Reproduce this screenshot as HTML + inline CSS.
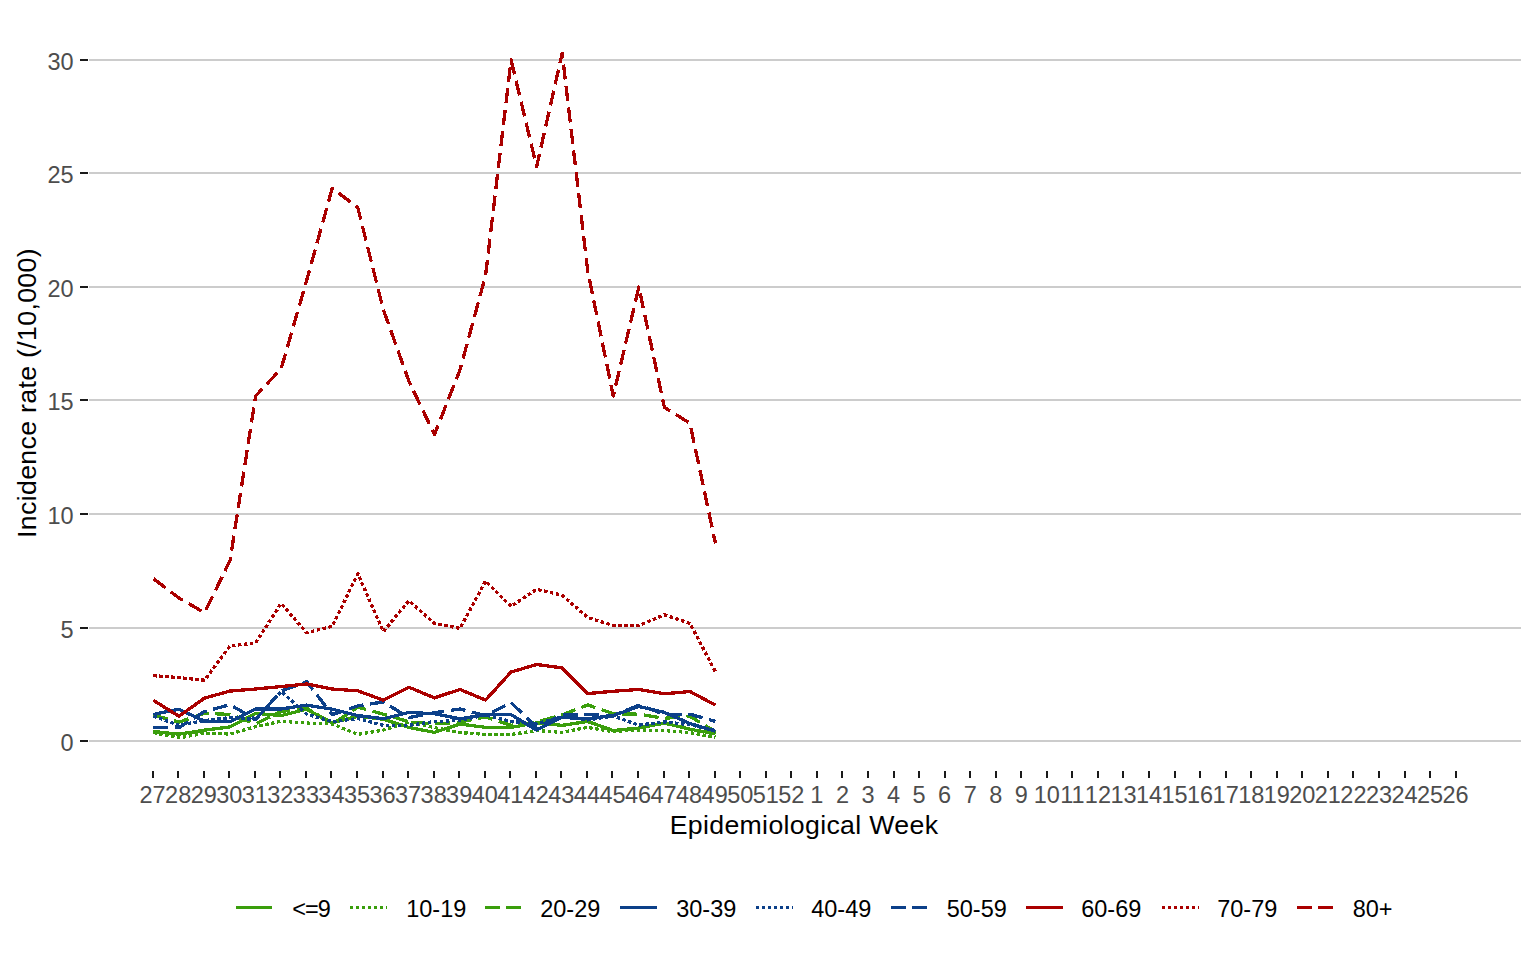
<!DOCTYPE html>
<html lang="en">
<head>
<meta charset="utf-8">
<title>Incidence rate by Epidemiological Week</title>
<style>
html,body{margin:0;padding:0;background:#ffffff;}
body{width:1536px;height:960px;overflow:hidden;}
svg{display:block;}
text{font-family:"Liberation Sans",Arial,Helvetica,sans-serif;}
.tick{fill:#4d4d4d;font-size:23.5px;}
.ttl{fill:#000000;font-size:26.7px;letter-spacing:0.33px;}
.leg{fill:#000000;font-size:23.5px;}
</style>
</head>
<body>
<svg width="1536" height="960" viewBox="0 0 1536 960">
<rect x="0" y="0" width="1536" height="960" fill="#ffffff"/>

<g shape-rendering="crispEdges">
<rect x="89" y="740" width="1432" height="2" fill="#cccccc"/>
<rect x="80" y="740" width="8" height="2" fill="#1a1a1a"/>
<rect x="89" y="627" width="1432" height="2" fill="#cccccc"/>
<rect x="80" y="627" width="8" height="2" fill="#1a1a1a"/>
<rect x="89" y="513" width="1432" height="2" fill="#cccccc"/>
<rect x="80" y="513" width="8" height="2" fill="#1a1a1a"/>
<rect x="89" y="399" width="1432" height="2" fill="#cccccc"/>
<rect x="80" y="399" width="8" height="2" fill="#1a1a1a"/>
<rect x="89" y="286" width="1432" height="2" fill="#cccccc"/>
<rect x="80" y="286" width="8" height="2" fill="#1a1a1a"/>
<rect x="89" y="172" width="1432" height="2" fill="#cccccc"/>
<rect x="80" y="172" width="8" height="2" fill="#1a1a1a"/>
<rect x="89" y="59" width="1432" height="2" fill="#cccccc"/>
<rect x="80" y="59" width="8" height="2" fill="#1a1a1a"/>
<rect x="152" y="771" width="2" height="7" fill="#1a1a1a"/>
<rect x="177" y="771" width="2" height="7" fill="#1a1a1a"/>
<rect x="203" y="771" width="2" height="7" fill="#1a1a1a"/>
<rect x="228" y="771" width="2" height="7" fill="#1a1a1a"/>
<rect x="254" y="771" width="2" height="7" fill="#1a1a1a"/>
<rect x="279" y="771" width="2" height="7" fill="#1a1a1a"/>
<rect x="305" y="771" width="2" height="7" fill="#1a1a1a"/>
<rect x="330" y="771" width="2" height="7" fill="#1a1a1a"/>
<rect x="356" y="771" width="2" height="7" fill="#1a1a1a"/>
<rect x="382" y="771" width="2" height="7" fill="#1a1a1a"/>
<rect x="407" y="771" width="2" height="7" fill="#1a1a1a"/>
<rect x="433" y="771" width="2" height="7" fill="#1a1a1a"/>
<rect x="458" y="771" width="2" height="7" fill="#1a1a1a"/>
<rect x="484" y="771" width="2" height="7" fill="#1a1a1a"/>
<rect x="509" y="771" width="2" height="7" fill="#1a1a1a"/>
<rect x="535" y="771" width="2" height="7" fill="#1a1a1a"/>
<rect x="560" y="771" width="2" height="7" fill="#1a1a1a"/>
<rect x="586" y="771" width="2" height="7" fill="#1a1a1a"/>
<rect x="611" y="771" width="2" height="7" fill="#1a1a1a"/>
<rect x="637" y="771" width="2" height="7" fill="#1a1a1a"/>
<rect x="663" y="771" width="2" height="7" fill="#1a1a1a"/>
<rect x="688" y="771" width="2" height="7" fill="#1a1a1a"/>
<rect x="714" y="771" width="2" height="7" fill="#1a1a1a"/>
<rect x="739" y="771" width="2" height="7" fill="#1a1a1a"/>
<rect x="765" y="771" width="2" height="7" fill="#1a1a1a"/>
<rect x="790" y="771" width="2" height="7" fill="#1a1a1a"/>
<rect x="816" y="771" width="2" height="7" fill="#1a1a1a"/>
<rect x="841" y="771" width="2" height="7" fill="#1a1a1a"/>
<rect x="867" y="771" width="2" height="7" fill="#1a1a1a"/>
<rect x="893" y="771" width="2" height="7" fill="#1a1a1a"/>
<rect x="918" y="771" width="2" height="7" fill="#1a1a1a"/>
<rect x="944" y="771" width="2" height="7" fill="#1a1a1a"/>
<rect x="969" y="771" width="2" height="7" fill="#1a1a1a"/>
<rect x="995" y="771" width="2" height="7" fill="#1a1a1a"/>
<rect x="1020" y="771" width="2" height="7" fill="#1a1a1a"/>
<rect x="1046" y="771" width="2" height="7" fill="#1a1a1a"/>
<rect x="1071" y="771" width="2" height="7" fill="#1a1a1a"/>
<rect x="1097" y="771" width="2" height="7" fill="#1a1a1a"/>
<rect x="1122" y="771" width="2" height="7" fill="#1a1a1a"/>
<rect x="1148" y="771" width="2" height="7" fill="#1a1a1a"/>
<rect x="1174" y="771" width="2" height="7" fill="#1a1a1a"/>
<rect x="1199" y="771" width="2" height="7" fill="#1a1a1a"/>
<rect x="1225" y="771" width="2" height="7" fill="#1a1a1a"/>
<rect x="1250" y="771" width="2" height="7" fill="#1a1a1a"/>
<rect x="1276" y="771" width="2" height="7" fill="#1a1a1a"/>
<rect x="1301" y="771" width="2" height="7" fill="#1a1a1a"/>
<rect x="1327" y="771" width="2" height="7" fill="#1a1a1a"/>
<rect x="1352" y="771" width="2" height="7" fill="#1a1a1a"/>
<rect x="1378" y="771" width="2" height="7" fill="#1a1a1a"/>
<rect x="1404" y="771" width="2" height="7" fill="#1a1a1a"/>
<rect x="1429" y="771" width="2" height="7" fill="#1a1a1a"/>
<rect x="1455" y="771" width="2" height="7" fill="#1a1a1a"/>
</g>
<text class="tick" x="73.7" y="750.6" text-anchor="end">0</text>
<text class="tick" x="73.7" y="637.6" text-anchor="end">5</text>
<text class="tick" x="73.7" y="523.6" text-anchor="end">10</text>
<text class="tick" x="73.7" y="409.6" text-anchor="end">15</text>
<text class="tick" x="73.7" y="296.6" text-anchor="end">20</text>
<text class="tick" x="73.7" y="182.6" text-anchor="end">25</text>
<text class="tick" x="73.7" y="69.6" text-anchor="end">30</text>
<text class="tick" x="152.60" y="803" text-anchor="middle">27</text>
<text class="tick" x="178.15" y="803" text-anchor="middle">28</text>
<text class="tick" x="203.70" y="803" text-anchor="middle">29</text>
<text class="tick" x="229.25" y="803" text-anchor="middle">30</text>
<text class="tick" x="254.80" y="803" text-anchor="middle">31</text>
<text class="tick" x="280.35" y="803" text-anchor="middle">32</text>
<text class="tick" x="305.89" y="803" text-anchor="middle">33</text>
<text class="tick" x="331.44" y="803" text-anchor="middle">34</text>
<text class="tick" x="356.99" y="803" text-anchor="middle">35</text>
<text class="tick" x="382.54" y="803" text-anchor="middle">36</text>
<text class="tick" x="408.09" y="803" text-anchor="middle">37</text>
<text class="tick" x="433.64" y="803" text-anchor="middle">38</text>
<text class="tick" x="459.19" y="803" text-anchor="middle">39</text>
<text class="tick" x="484.74" y="803" text-anchor="middle">40</text>
<text class="tick" x="510.29" y="803" text-anchor="middle">41</text>
<text class="tick" x="535.84" y="803" text-anchor="middle">42</text>
<text class="tick" x="561.38" y="803" text-anchor="middle">43</text>
<text class="tick" x="586.93" y="803" text-anchor="middle">44</text>
<text class="tick" x="612.48" y="803" text-anchor="middle">45</text>
<text class="tick" x="638.03" y="803" text-anchor="middle">46</text>
<text class="tick" x="663.58" y="803" text-anchor="middle">47</text>
<text class="tick" x="689.13" y="803" text-anchor="middle">48</text>
<text class="tick" x="714.68" y="803" text-anchor="middle">49</text>
<text class="tick" x="740.23" y="803" text-anchor="middle">50</text>
<text class="tick" x="765.78" y="803" text-anchor="middle">51</text>
<text class="tick" x="791.33" y="803" text-anchor="middle">52</text>
<text class="tick" x="816.87" y="803" text-anchor="middle">1</text>
<text class="tick" x="842.42" y="803" text-anchor="middle">2</text>
<text class="tick" x="867.97" y="803" text-anchor="middle">3</text>
<text class="tick" x="893.52" y="803" text-anchor="middle">4</text>
<text class="tick" x="919.07" y="803" text-anchor="middle">5</text>
<text class="tick" x="944.62" y="803" text-anchor="middle">6</text>
<text class="tick" x="970.17" y="803" text-anchor="middle">7</text>
<text class="tick" x="995.72" y="803" text-anchor="middle">8</text>
<text class="tick" x="1021.27" y="803" text-anchor="middle">9</text>
<text class="tick" x="1046.82" y="803" text-anchor="middle">10</text>
<text class="tick" x="1072.36" y="803" text-anchor="middle">11</text>
<text class="tick" x="1097.91" y="803" text-anchor="middle">12</text>
<text class="tick" x="1123.46" y="803" text-anchor="middle">13</text>
<text class="tick" x="1149.01" y="803" text-anchor="middle">14</text>
<text class="tick" x="1174.56" y="803" text-anchor="middle">15</text>
<text class="tick" x="1200.11" y="803" text-anchor="middle">16</text>
<text class="tick" x="1225.66" y="803" text-anchor="middle">17</text>
<text class="tick" x="1251.21" y="803" text-anchor="middle">18</text>
<text class="tick" x="1276.76" y="803" text-anchor="middle">19</text>
<text class="tick" x="1302.30" y="803" text-anchor="middle">20</text>
<text class="tick" x="1327.85" y="803" text-anchor="middle">21</text>
<text class="tick" x="1353.40" y="803" text-anchor="middle">22</text>
<text class="tick" x="1378.95" y="803" text-anchor="middle">23</text>
<text class="tick" x="1404.50" y="803" text-anchor="middle">24</text>
<text class="tick" x="1430.05" y="803" text-anchor="middle">25</text>
<text class="tick" x="1455.60" y="803" text-anchor="middle">26</text>
<text class="ttl" x="804" y="834.4" text-anchor="middle">Epidemiological Week</text>
<text class="ttl" transform="translate(35.5,393) rotate(-90)" text-anchor="middle">Incidence rate (/10,000)</text>
<g fill="none" stroke-linejoin="round" stroke-linecap="butt" shape-rendering="crispEdges">
<polyline points="153.40,731.47 178.95,734.19 204.50,730.10 230.05,726.93 255.60,713.31 281.15,715.58 306.69,709.22 332.24,722.84 357.79,716.26 383.34,719.21 408.89,727.38 434.44,732.37 459.99,723.98 485.54,727.38 511.09,727.38 536.63,722.84 562.18,725.34 587.73,721.48 613.28,730.56 638.83,728.06 664.38,723.07 689.93,729.20 715.48,733.74" stroke="#3a9e0c" stroke-width="3.3"/>
<polyline points="153.40,732.60 178.95,737.82 204.50,733.28 230.05,733.96 255.60,726.70 281.15,721.25 306.69,723.07 332.24,723.98 357.79,734.42 383.34,730.10 408.89,722.16 434.44,727.61 459.99,732.60 485.54,734.42 511.09,734.42 536.63,730.56 562.18,732.37 587.73,727.38 613.28,731.69 638.83,729.88 664.38,730.56 689.93,732.60 715.48,737.14" stroke="#3a9e0c" stroke-width="3.3" stroke-dasharray="3.5 2.5"/>
<polyline points="153.40,715.12 178.95,722.16 204.50,713.31 230.05,714.44 255.60,723.98 281.15,711.49 306.69,708.09 332.24,723.98 357.79,707.18 383.34,714.21 408.89,721.71 434.44,723.98 459.99,722.16 485.54,716.94 511.09,725.34 536.63,722.16 562.18,714.89 587.73,704.91 613.28,713.76 638.83,714.21 664.38,718.30 689.93,716.26 715.48,731.69" stroke="#3a9e0c" stroke-width="3.3" stroke-dasharray="15 6.5"/>
<polyline points="153.40,714.44 178.95,709.22 204.50,721.25 230.05,721.71 255.60,708.99 281.15,708.99 306.69,705.13 332.24,709.22 357.79,715.58 383.34,718.75 408.89,712.40 434.44,713.76 459.99,718.75 485.54,714.89 511.09,714.67 536.63,730.10 562.18,717.16 587.73,718.75 613.28,715.58 638.83,706.50 664.38,712.40 689.93,723.52 715.48,731.24" stroke="#0c4089" stroke-width="3.3"/>
<polyline points="153.40,716.03 178.95,725.34 204.50,720.57 230.05,717.62 255.60,719.43 281.15,691.51 306.69,714.21 332.24,721.71 357.79,718.53 383.34,725.34 408.89,725.34 434.44,721.48 459.99,720.57 485.54,714.89 511.09,721.48 536.63,723.52 562.18,716.94 587.73,719.89 613.28,716.03 638.83,725.11 664.38,721.93 689.93,724.66 715.48,730.56" stroke="#0c4089" stroke-width="3.3" stroke-dasharray="3.5 2.5"/>
<polyline points="153.40,727.61 178.95,727.61 204.50,711.49 230.05,704.68 255.60,719.43 281.15,691.06 306.69,681.75 332.24,714.67 357.79,705.82 383.34,701.96 408.89,717.62 434.44,712.62 459.99,708.99 485.54,715.58 511.09,702.64 536.63,727.38 562.18,714.89 587.73,714.21 613.28,715.58 638.83,705.13 664.38,714.21 689.93,714.21 715.48,721.48" stroke="#0c4089" stroke-width="3.3" stroke-dasharray="15 6.5"/>
<polyline points="153.40,700.37 178.95,716.26 204.50,698.10 230.05,691.06 255.60,689.02 281.15,686.52 306.69,684.02 332.24,689.02 357.79,690.83 383.34,700.14 408.89,687.20 434.44,697.87 459.99,689.47 485.54,700.14 511.09,671.99 536.63,664.50 562.18,667.91 587.73,693.56 613.28,691.29 638.83,689.47 664.38,693.78 689.93,691.51 715.48,705.13" stroke="#aa0000" stroke-width="3.3"/>
<polyline points="153.40,675.62 178.95,677.67 204.50,680.16 230.05,645.89 255.60,642.94 281.15,603.44 306.69,632.72 332.24,626.37 357.79,573.70 383.34,631.59 408.89,600.71 434.44,623.41 459.99,628.41 485.54,581.19 511.09,606.39 536.63,589.36 562.18,595.27 587.73,617.51 613.28,625.46 638.83,625.46 664.38,614.79 689.93,623.41 715.48,671.76" stroke="#aa0000" stroke-width="3.3" stroke-dasharray="3.5 2.5"/>
<polyline points="153.40,578.69 178.95,597.99 204.50,612.75 230.05,560.53 255.60,395.96 281.15,368.72 306.69,280.19 332.24,188.25 357.79,207.55 383.34,309.70 408.89,381.21 434.44,434.55 459.99,369.85 485.54,275.65 511.09,60.00 536.63,166.69 562.18,53.19 587.73,271.11 613.28,395.96 638.83,287.00 664.38,407.31 689.93,423.20 715.48,543.51" stroke="#aa0000" stroke-width="3.3" stroke-dasharray="15.08 6.54"/>
</g>
<g fill="none" stroke-linecap="butt" shape-rendering="crispEdges">
<line x1="236" y1="907.5" x2="272" y2="907.5" stroke="#3a9e0c" stroke-width="3"/>
<line x1="350" y1="907.5" x2="387" y2="907.5" stroke="#3a9e0c" stroke-width="3" stroke-dasharray="3 3"/>
<line x1="485" y1="907.5" x2="522" y2="907.5" stroke="#3a9e0c" stroke-width="3" stroke-dasharray="15 6"/>
<line x1="620" y1="907.5" x2="657" y2="907.5" stroke="#0c4089" stroke-width="3"/>
<line x1="756" y1="907.5" x2="793" y2="907.5" stroke="#0c4089" stroke-width="3" stroke-dasharray="3 3"/>
<line x1="891" y1="907.5" x2="928" y2="907.5" stroke="#0c4089" stroke-width="3" stroke-dasharray="15 6"/>
<line x1="1026" y1="907.5" x2="1063" y2="907.5" stroke="#aa0000" stroke-width="3"/>
<line x1="1162" y1="907.5" x2="1199" y2="907.5" stroke="#aa0000" stroke-width="3" stroke-dasharray="3 3"/>
<line x1="1297" y1="907.5" x2="1334" y2="907.5" stroke="#aa0000" stroke-width="3" stroke-dasharray="15 6"/>
</g>
<text class="leg" x="292.2" y="917" letter-spacing="-1">&lt;=9</text>
<text class="leg" x="406.2" y="917">10-19</text>
<text class="leg" x="540.2" y="917">20-29</text>
<text class="leg" x="676.2" y="917">30-39</text>
<text class="leg" x="811.2" y="917">40-49</text>
<text class="leg" x="946.7" y="917">50-59</text>
<text class="leg" x="1081.2" y="917">60-69</text>
<text class="leg" x="1217.2" y="917">70-79</text>
<text class="leg" x="1352.7" y="917">80+</text>
</svg>
</body>
</html>
